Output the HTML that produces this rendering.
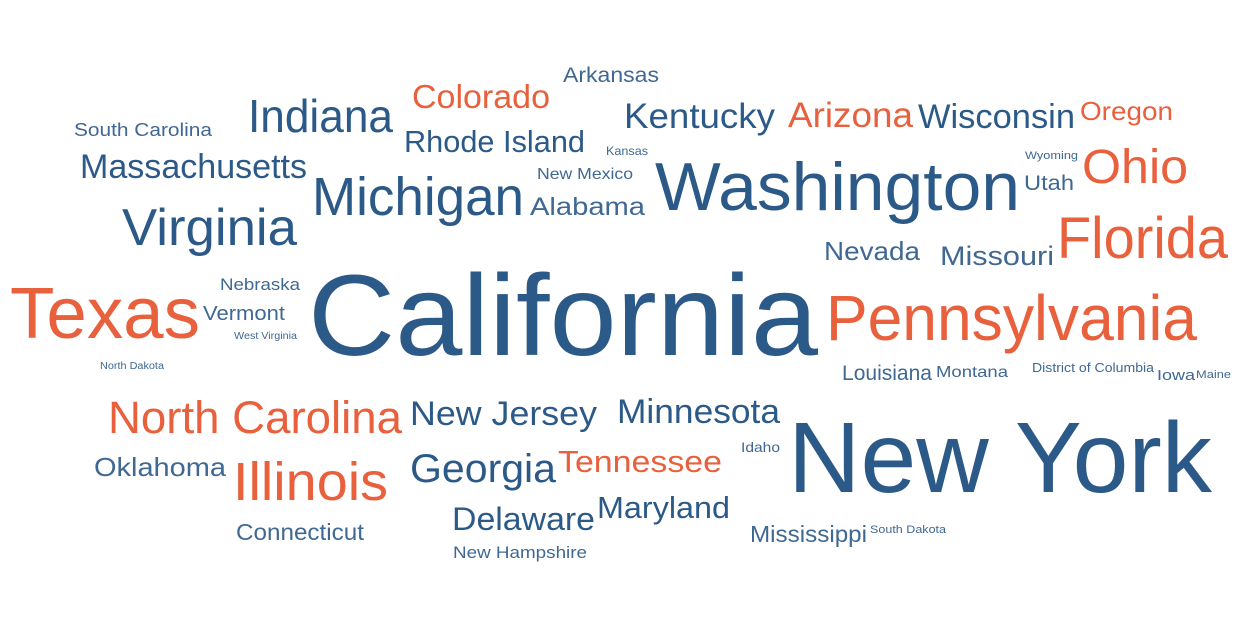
<!DOCTYPE html>
<html><head><meta charset="utf-8"><style>
html,body{margin:0;padding:0;background:#fff;}
svg{display:block;}
text{font-family:"Liberation Sans","DejaVu Sans",sans-serif;}
</style></head><body>
<svg id="cloud" width="1236" height="617"></svg>
<script>
const words = ["California","New York","Washington","Pennsylvania","Texas","Florida","Michigan","Virginia","North Carolina","Illinois","Ohio","Indiana","Georgia","New Jersey","Minnesota","Massachusetts","Kentucky","Arizona","Wisconsin","Colorado","Rhode Island","Tennessee","Delaware","Maryland","Oregon","Missouri","Nevada","Oklahoma","Alabama","Connecticut","Mississippi","Louisiana","Utah","Arkansas","Vermont","South Carolina","New Mexico","Nebraska","New Hampshire","Montana","Idaho","District of Columbia","Iowa","Maine","Kansas","Wyoming","South Dakota","West Virginia","North Dakota"];
const values = [115,100,68,64,72,58,54,52,45,54,48,46,40,34,34,34,35,35,34,33,31,31,32,31,26,27,26,26,25,23,23,21,21,21,20,18,16,17,17,16,14,13,15,11,12,11,11,10,10];
const groups = ["b","b","b","o","o","o","b","b","o","o","o","b","b","b","b","b","b","o","b","o","b","o","b","b","o","b","b","b","b","b","b","b","b","b","b","b","b","b","b","b","b","b","b","b","b","b","b","b","b"];
// layout (word-cloud placement): x start, baseline y, rendered width
const layoutX = [308,788,655,826,10,1057,312,122,108,233,1082,248,410,410,617,80,624,788,918,412,404,558,452,597,1080,940,824,94,530,236,750,842,1024,563,203,74,537,220,453,936,741,1032,1157,1196,606,1025,870,234,100];
const layoutY = [355,492,210,340,338,258,215,245,433,500,183,132,482,425,423,178,128,127,128,108,152,472,530,518,120,265,260,476,215,540,542,380,190,82,320,136,179,290,558,377,452,372,380,378,155,159,533,339,369];
const layoutW = [510,424,365,371,190,171,212,175,294,155,106,145,146,187,163,227,151,125,157,138,181,164,143,133,93,114,96,132,115,128,117,90,50,96,82,138,96,80,134,72,39,122,38,35,42,53,76,63,64];
function sizeScale(v){ return v; }
function colorScale(g,v){ return g==="o" ? "#e8603c" : (v>=30 ? "#2c5a88" : "#3f6892"); }
const svg = document.getElementById('cloud');
const NS = "http://www.w3.org/2000/svg";
words.forEach((w,i)=>{
  const t = document.createElementNS(NS,'text');
  t.setAttribute('x', layoutX[i]);
  t.setAttribute('y', layoutY[i]);
  t.setAttribute('font-size', sizeScale(values[i]));
  t.setAttribute('fill', colorScale(groups[i], values[i]));
  t.setAttribute('textLength', layoutW[i]);
  t.setAttribute('lengthAdjust', 'spacingAndGlyphs');
  
  
  t.textContent = w;
  svg.appendChild(t);
});
</script>
</body></html>
